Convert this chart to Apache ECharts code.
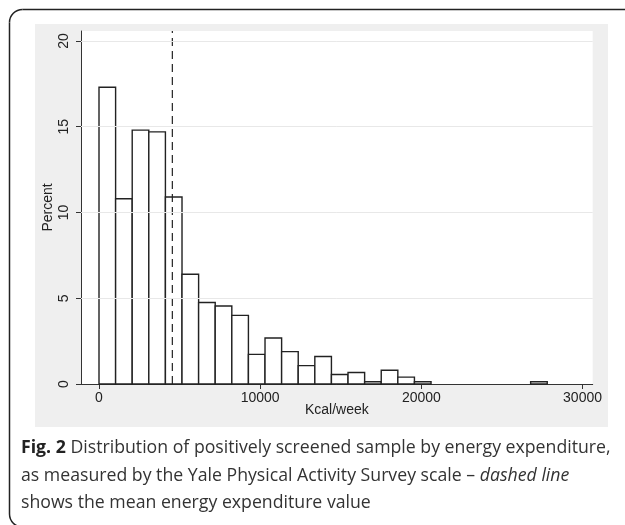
<!DOCTYPE html>
<html>
<head>
<meta charset="utf-8">
<script src="https://cdn.jsdelivr.net/npm/echarts@6/dist/echarts.min.js"></script>
<style>
html,body{margin:0;padding:0;background:#fff;}
#chart{width:625px;height:525px;}
</style>
</head>
<body>
<div id="chart"></div>
<script>
// ---- data ----
var binWidth = 1030;             // kcal/week per histogram bin
var percents = [17.3, 10.8, 14.8, 14.7, 10.9, 6.4, 4.75, 4.55, 4.0, 1.73,
                2.68, 1.89, 1.07, 1.6, 0.55, 0.67, 0.13, 0.8, 0.4, 0.13,
                0, 0, 0, 0, 0, 0, 0.13];
var meanValue = 4550;
var xTicks = [0, 10000, 20000, 30000];
var yTicks = [0, 5, 10, 15, 20];
var gridValues = [5, 10, 15, 20];
var xTitle = 'Kcal/week';
var yTitle = 'Percent';
var captionLines = [
  '{b|Fig. 2} Distribution of positively screened sample by energy expenditure,',
  'as measured by the Yale Physical Activity Survey scale \u2013 {i|dashed line}',
  'shows the mean energy expenditure value'
];

// ---- build ----
var binData = percents.map(function (p, i) { return [i * binWidth, (i + 1) * binWidth, p]; });
var yMax = 20.58;

var chart = echarts.init(document.getElementById('chart'), null, {renderer: 'canvas'});
var axisFont = 'Liberation Sans, Arial, sans-serif';
var capFont = '"Open Sans", sans-serif';
var capSize = 17.7;
var frameStyle = {fill: null, stroke: '#222', lineWidth: 1.5};

var graphics = [
  {type: 'polyline', z: -10, shape: {points: [[22.5, 9.5], [660, 9.5]]}, style: frameStyle},
  {type: 'polyline', z: -10, shape: {points: [[9.5, 22.5], [9.5, 514]]}, style: frameStyle},
  {type: 'polyline', z: -10, shape: {points: [[22.5, 527], [660, 527]]}, style: frameStyle},
  {type: 'arc', z: -10, shape: {cx: 22.5, cy: 22.5, r: 13, startAngle: Math.PI, endAngle: 1.5 * Math.PI, clockwise: true}, style: frameStyle},
  {type: 'arc', z: -10, shape: {cx: 22.5, cy: 514, r: 13, startAngle: 0.5 * Math.PI, endAngle: Math.PI, clockwise: true}, style: frameStyle},
  {type: 'rect', z: -9, shape: {x: 35, y: 24, width: 573, height: 403},
   style: {fill: '#efefef'}},
  {type: 'rect', z: -8, shape: {x: 81, y: 31, width: 511.7, height: 353},
   style: {fill: '#fff'}}
];
var capY = [447.5, 475.5, 502.5];
captionLines.forEach(function (t, i) {
  graphics.push({
    type: 'text', z: 10, x: 21, y: capY[i],
    style: {
      text: t, fill: '#333', fontSize: capSize, fontFamily: capFont,
      verticalAlign: 'middle', align: 'left',
      rich: {
        b: {fontWeight: 'bold', fontSize: capSize, fontFamily: capFont, fill: '#222'},
        i: {fontStyle: 'italic', fontSize: capSize, fontFamily: capFont, fill: '#333'}
      }
    }
  });
});

chart.setOption({
  animation: false,
  backgroundColor: 'transparent',
  graphic: graphics,
  grid: {left: 81, right: 32.3, top: 31, bottom: 141},
  xAxis: {
    type: 'value', min: -1117, max: 30630,
    name: xTitle, nameLocation: 'middle', nameGap: 19, nameMoveOverlap: false,
    nameTextStyle: {fontFamily: axisFont, fontSize: 14, color: '#222'},
    axisLine: {show: true, onZero: false, lineStyle: {color: '#333', width: 1}},
    axisTick: {show: true, length: 5, inside: false, customValues: xTicks, lineStyle: {color: '#333'}},
    axisLabel: {customValues: xTicks, margin: 7, fontFamily: axisFont, fontSize: 14, color: '#222',
                formatter: function (v) { return String(v); }},
    splitLine: {show: false}
  },
  yAxis: {
    type: 'value', min: 0, max: yMax,
    name: yTitle, nameLocation: 'middle', nameGap: 26, nameRotate: 90, nameMoveOverlap: false,
    nameTextStyle: {fontFamily: axisFont, fontSize: 14, color: '#222'},
    axisLine: {show: true, onZero: false, lineStyle: {color: '#333', width: 1}},
    axisTick: {show: true, length: 5, customValues: yTicks, lineStyle: {color: '#333'}},
    axisLabel: {customValues: yTicks, rotate: 90, margin: 10, fontFamily: axisFont, fontSize: 14, color: '#222',
                formatter: function (v) { return String(v); }},
    splitLine: {show: false}
  },
  series: [
    {
      type: 'line', data: [], silent: true, z: 1,
      markLine: {
        silent: true, symbol: ['none', 'none'], label: {show: false},
        lineStyle: {color: '#e8e8e8', width: 1, type: 'solid'},
        data: gridValues.map(function (v) { return {yAxis: v}; })
      }
    },
    {
      type: 'custom', z: 2,
      data: binData,
      encode: {x: [0, 1], y: 2},
      renderItem: function (params, api) {
        var x0 = api.value(0), x1 = api.value(1), v = api.value(2);
        if (!v) return null;
        var p0 = api.coord([x0, 0]);
        var p1 = api.coord([x1, v]);
        return {
          type: 'rect',
          shape: {x: p0[0], y: p1[1], width: p1[0] - p0[0], height: p0[1] - p1[1]},
          style: {fill: '#fff', stroke: '#222', lineWidth: 1.4}
        };
      }
    },
    {
      type: 'line', z: 3, silent: true, symbol: 'none',
      data: [[meanValue, 0], [meanValue, yMax]],
      lineStyle: {color: '#222', width: 1.2, type: [8, 5]}
    }
  ]
});
</script>
</body>
</html>
